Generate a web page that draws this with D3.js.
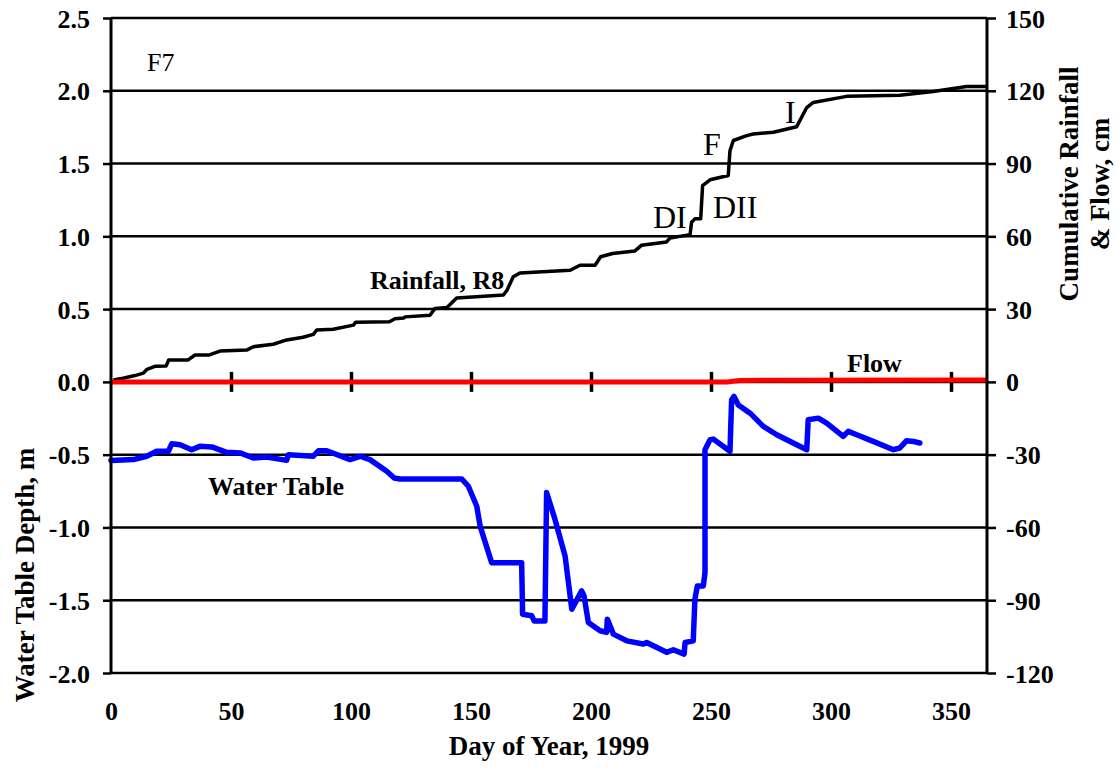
<!DOCTYPE html>
<html>
<head>
<meta charset="utf-8">
<script src="https://cdn.jsdelivr.net/npm/d3@7"></script>
<style>
  body { margin: 0; background: #fff; }
  svg { display: block; }
  .axis line, .axis path { stroke: #000; }
</style>
</head>
<body>
<svg width="1119" height="768"></svg>
<script>
// cumulative rainfall (cm) by day of year
const rainDay = [1, 5, 10, 13.5, 15, 18.3, 23, 24, 32, 35, 41, 45.4, 56.5, 59.3, 67.6, 73.2, 80, 84.3, 85.7, 92.6,
  101, 102, 116, 118.3, 122, 122.5, 132.9, 135, 140, 144, 163.5, 165, 167.6, 170.4, 191.3, 195.4, 201.7, 204, 209,
  218.3, 221, 231.5, 232.9, 241.3, 241.9, 243.3, 245.7, 246.5, 249.6, 257.2, 257.9, 259.3, 264.9, 267.6, 276, 285.7,
  289.9, 292.6, 306.5, 328.7, 342.6, 356.5, 365];
const rainCm = [0.8, 1.5, 2.6, 3.6, 5.2, 6.4, 6.6, 9.0, 9.0, 11.1, 11.1, 12.7, 13.1, 14.5, 15.5, 17.3, 18.4, 19.6, 21.4, 21.7,
  23.4, 24.6, 24.8, 26.0, 26.3, 26.8, 27.5, 30.3, 30.7, 34.6, 35.8, 37.8, 43.3, 44.9, 46.0, 48.1, 48.1, 51.6, 52.9,
  54.0, 56.3, 57.7, 59.3, 60.7, 65.8, 67.2, 67.2, 80.9, 83.3, 85.1, 95.3, 99.5, 101.5, 102.2, 102.9, 105.2,
  113.1, 115.2, 117.7, 118.2, 119.7, 121.8, 121.8];

// cumulative flow (cm)
const flowDay = [0, 257, 259, 262, 280, 365];
const flowCm = [0, 0, 0.3, 0.6, 0.7, 0.8];

// water table depth (m)
const wtDay = [0, 9.3, 14.9, 19, 23.9, 25.3, 28.8, 33.6, 37, 42, 48.2, 53.8, 59.3, 64.9, 73.2, 73.9, 84.3, 86.4, 89.9,
  99.6, 103.8, 107.9, 114.9, 118, 120.4, 146.1, 148.9, 152.4, 153.8, 158.6, 171.1, 171.5, 175.3, 176.3, 180.8, 181.5,
  185, 189.2, 192, 196.1, 197.1, 198.9, 203.8, 206.5, 206.8, 209.3, 214.9, 221.8, 223.2, 231.5, 234.3, 238.8, 239.2,
  242.6, 243.3, 244.3, 246.8, 247.5, 247.5, 249.6, 251, 257.9, 258.6, 259.6, 261.4, 266.3, 271.8, 277.4, 285.7,
  289.9, 290.5, 294.7, 298.2, 305.1, 307.2, 310.7, 317.6, 326, 328.7, 331.5, 334.3, 337];
const wtDepth = [-0.54, -0.534, -0.511, -0.477, -0.477, -0.425, -0.432, -0.466, -0.443, -0.447, -0.484, -0.488, -0.523,
  -0.516, -0.539, -0.5, -0.511, -0.473, -0.473, -0.534, -0.511, -0.534, -0.614, -0.66, -0.667, -0.667, -0.717, -0.854,
  -0.991, -1.242, -1.242, -1.596, -1.607, -1.642, -1.642, -0.76, -0.945, -1.196, -1.562, -1.436, -1.47, -1.653, -1.71,
  -1.721, -1.63, -1.733, -1.779, -1.801, -1.79, -1.858, -1.84, -1.87, -1.79, -1.779, -1.493, -1.402, -1.402, -1.311,
  -0.466, -0.397, -0.393, -0.477, -0.123, -0.1, -0.158, -0.215, -0.306, -0.363, -0.432, -0.466, -0.26, -0.249, -0.283,
  -0.374, -0.34, -0.363, -0.409, -0.466, -0.454, -0.404, -0.409, -0.42];

const leftTicks = [-2, -1.5, -1, -0.5, 0, 0.5, 1, 1.5, 2, 2.5];
const rightTicks = [-120, -90, -60, -30, 0, 30, 60, 90, 120, 150];
const dayTicks = [0, 50, 100, 150, 200, 250, 300, 350];

const SERIF = "'Liberation Serif', 'Times New Roman', serif";
const svg = d3.select("svg").attr("font-family", SERIF);
const plotL = 111, plotR = 987, plotT = 18, plotB = 673;

const x = d3.scaleLinear().domain([0, 365]).range([plotL, plotR]);
const yL = d3.scaleLinear().domain([-2, 2.5]).range([plotB, plotT]);
const yR = d3.scaleLinear().domain([-120, 150]).range([plotB, plotT]);

// serif bold labels on every axis
const styleAxis = (g) =>
  g.attr("font-family", SERIF)
    .attr("font-size", 26)
    .attr("font-weight", "bold")
    .call((g) =>
      g.selectAll("text")
        .attr("fill", "#000")
        .style("font-family", SERIF)
        .style("font-weight", "bold")
        .style("font-size", "26px")
    );

// gridlines
svg.append("g")
  .selectAll("line")
  .data(leftTicks)
  .join("line")
  .attr("x1", plotL)
  .attr("x2", plotR)
  .attr("y1", (d) => yL(d))
  .attr("y2", (d) => yL(d))
  .attr("stroke", "#000")
  .attr("stroke-width", 2.5);

// rainfall
const rain = rainDay.map((d, i) => [d, rainCm[i]]);
svg.append("path")
  .datum(rain)
  .attr("fill", "none")
  .attr("stroke", "#000")
  .attr("stroke-width", 3.5)
  .attr("stroke-linejoin", "round")
  .attr("d", d3.line().x((d) => x(d[0])).y((d) => yR(d[1])));

// x ticks crossing the zero line
svg.append("g")
  .attr("class", "axis")
  .attr("transform", `translate(0,${yL(0) - 10})`)
  .call(d3.axisBottom(x).tickValues(dayTicks.slice(1)).tickSize(20).tickFormat(""))
  .call((g) => g.select(".domain").remove())
  .call((g) => g.selectAll("line").attr("stroke-width", 3.5));

// flow
const flow = flowDay.map((d, i) => [d, flowCm[i]]);
svg.append("path")
  .datum(flow)
  .attr("fill", "none")
  .attr("stroke", "#ff0000")
  .attr("stroke-width", 5)
  .attr("d", d3.line().x((d) => x(d[0])).y((d) => yR(d[1])));

// water table
const wt = wtDay.map((d, i) => [d, wtDepth[i]]);
svg.append("path")
  .datum(wt)
  .attr("fill", "none")
  .attr("stroke", "#0000ff")
  .attr("stroke-width", 5.5)
  .attr("stroke-linejoin", "round")
  .attr("stroke-linecap", "round")
  .attr("d", d3.line().x((d) => x(d[0])).y((d) => yL(d[1])));

// left axis
svg.append("g")
  .attr("class", "axis")
  .attr("transform", `translate(${plotL},0)`)
  .call(d3.axisLeft(yL).tickValues(leftTicks).tickSize(8).tickPadding(13).tickFormat((d) => d.toFixed(1)))
  .call(styleAxis)
  .call((g) => g.select(".domain").attr("stroke-width", 3).attr("d", `M0,${plotT}V${plotB}`))
  .call((g) => g.selectAll("line").attr("stroke-width", 2.5))
  .call((g) => g.selectAll("text").attr("dy", "0.35em"));

// right axis
svg.append("g")
  .attr("class", "axis")
  .attr("transform", `translate(${plotR},0)`)
  .call(d3.axisRight(yR).tickValues(rightTicks).tickSize(9).tickPadding(10).tickFormat((d) => String(d)))
  .call(styleAxis)
  .call((g) => g.select(".domain").attr("stroke-width", 3).attr("d", `M0,${plotT}V${plotB}`))
  .call((g) => g.selectAll("line").attr("stroke-width", 2.5))
  .call((g) => g.selectAll("text").attr("dy", "0.35em"));

// day labels under the plot
svg.append("g")
  .attr("class", "axis")
  .attr("transform", `translate(0,${plotB})`)
  .call(d3.axisBottom(x).tickValues(dayTicks).tickSize(0).tickFormat((d) => String(d)))
  .call(styleAxis)
  .call((g) => g.select(".domain").remove())
  .call((g) => g.selectAll("text").attr("y", 47).attr("dy", null));

// titles
const bold = (sel, size = 27) => sel.attr("font-size", size).attr("font-weight", "bold").attr("fill", "#000");
bold(svg.append("text"))
  .attr("x", (plotL + plotR) / 2)
  .attr("y", 755)
  .attr("text-anchor", "middle")
  .text("Day of Year, 1999");
bold(svg.append("text"))
  .attr("transform", "translate(34,575) rotate(-90)")
  .attr("text-anchor", "middle")
  .text("Water Table Depth, m");
bold(svg.append("text"))
  .attr("transform", "translate(1078,184) rotate(-90)")
  .attr("text-anchor", "middle")
  .text("Cumulative Rainfall");
bold(svg.append("text"))
  .attr("transform", "translate(1109,184) rotate(-90)")
  .attr("text-anchor", "middle")
  .text("& Flow, cm");

// in-plot labels
bold(svg.append("text"), 26).attr("x", 370).attr("y", 289).text("Rainfall, R8");
bold(svg.append("text"), 26).attr("x", 208).attr("y", 495).text("Water Table");
bold(svg.append("text"), 26).attr("x", 847).attr("y", 372).text("Flow");

svg.append("text").attr("x", 147).attr("y", 71).attr("font-size", 26).text("F7");
const notes = [
  { t: "DI", x: 653, y: 228 },
  { t: "DII", x: 713, y: 218 },
  { t: "F", x: 703, y: 155 },
  { t: "I", x: 785, y: 123 }
];
svg.append("g")
  .selectAll("text")
  .data(notes)
  .join("text")
  .attr("x", (d) => d.x)
  .attr("y", (d) => d.y)
  .attr("font-size", 32)
  .text((d) => d.t);
</script>
</body>
</html>
